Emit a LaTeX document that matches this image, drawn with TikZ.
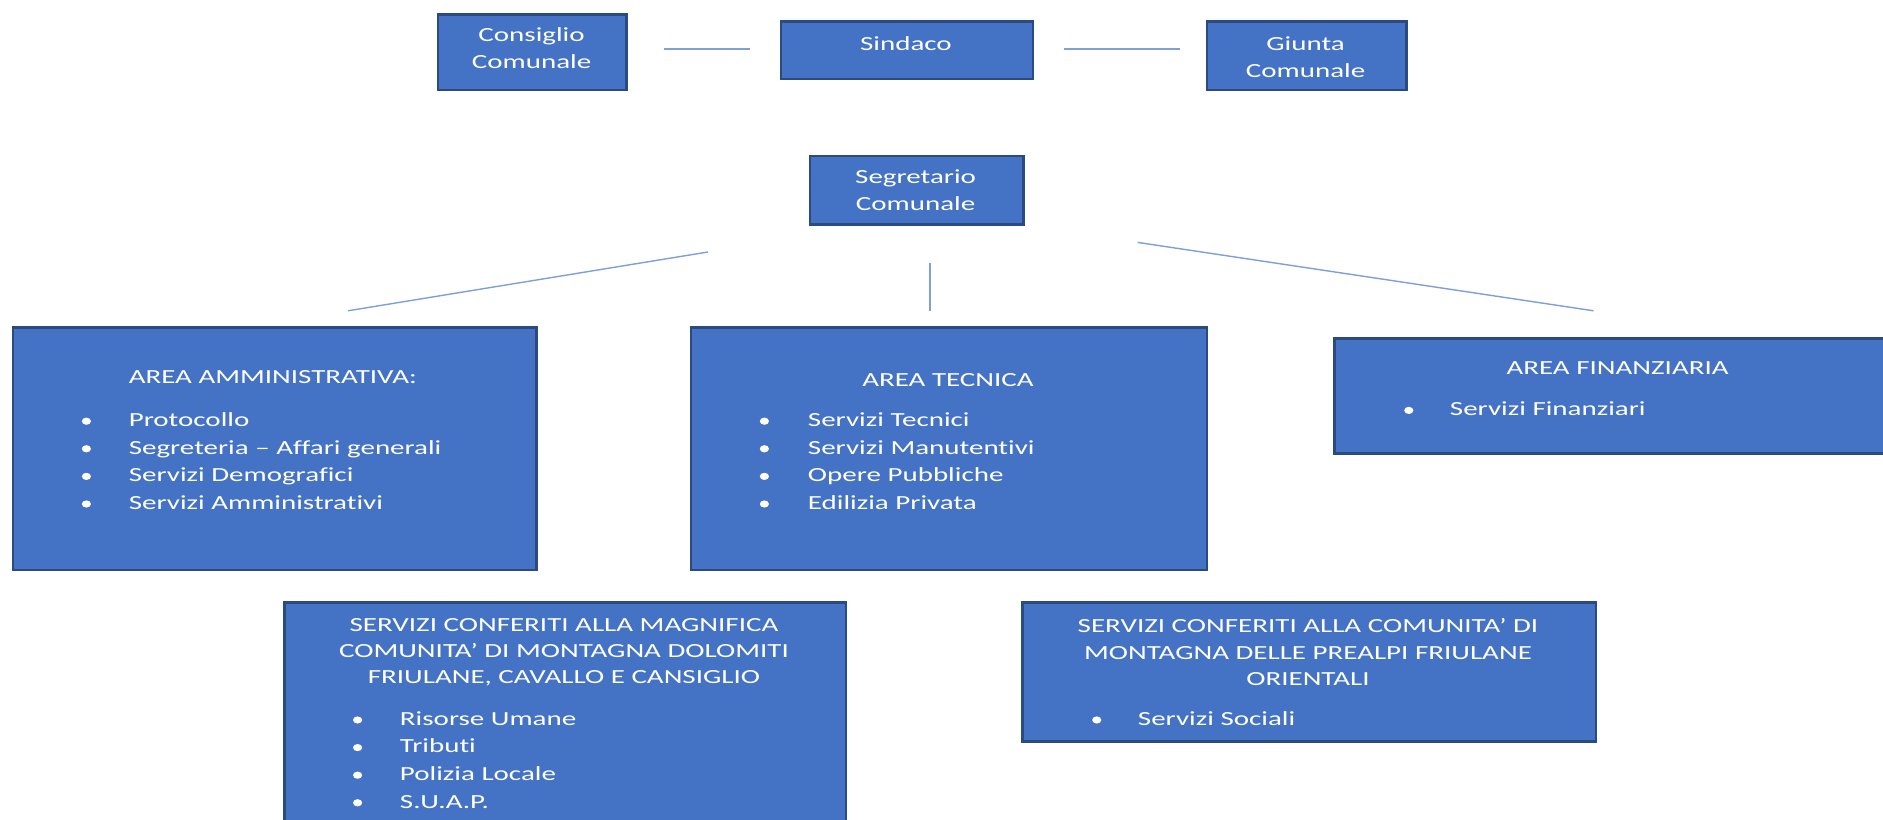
\documentclass[tikz,border=0pt]{standalone}
\usepackage{fontspec}
\usetikzlibrary{shapes.geometric}
\setmainfont{Carlito}[FakeStretch=1.45, Ligatures=NoCommon]
\definecolor{boxfill}{HTML}{4472C4}
\definecolor{boxline}{HTML}{2A4A80}
\definecolor{conn}{HTML}{7F9FD8}
\begin{document}
\begin{tikzpicture}[x=0.6pt,y=-0.6pt,
  box/.style={draw=boxline, fill=boxfill, line width=1.2pt, rectangle, inner sep=0pt, anchor=north west},
  txt/.style={text=white, font=\fontsize{10}{13.2}\selectfont, inner sep=0pt},
  ttl/.style={txt, align=center, anchor=center},
  itm/.style={txt, anchor=mid west},
  dot/.style={ellipse, fill=white, inner sep=0pt, minimum width=4.6pt, minimum height=3.6pt},
  link/.style={draw=conn, line width=0.7pt}]
\useasboundingbox (0,0) rectangle (1569.2,683.3);
\begin{scope}
\clip (0,0) rectangle (1569.2,683.3);
% top row
\node[box, minimum width=94.2pt, minimum height=37.8pt] (cons) at (364,11) {};
\node[ttl] (consT) at (443,40) {Consiglio\\Comunale};
\node[box, minimum width=126pt, minimum height=28.8pt] (sind) at (650,17) {};
\node[ttl] (sindT) at (755,36) {Sindaco};
\node[box, minimum width=99.6pt, minimum height=34.2pt] (giun) at (1005,17) {};
\node[ttl] (giunT) at (1088,47.5) {Giunta\\Comunale};
\coordinate (l1a) at (553,41); \coordinate (l1b) at (625,41);
\coordinate (l2a) at (887,41); \coordinate (l2b) at (983,41);
\draw[link] (l1a) -- (l1b);
\draw[link] (l2a) -- (l2b);
% segretario
\node[box, minimum width=106.8pt, minimum height=34.2pt] (segr) at (674,129) {};
\node[ttl] (segrT) at (763,158.5) {Segretario\\Comunale};
\coordinate (s1a) at (590,210); \coordinate (s1b) at (290,259);
\coordinate (s2a) at (775,219); \coordinate (s2b) at (775,259);
\coordinate (s3a) at (948,202); \coordinate (s3b) at (1328,259);
\draw[link] (s1a) -- (s1b);
\draw[link] (s2a) -- (s2b);
\draw[link] (s3a) -- (s3b);
% area amministrativa
\node[box, minimum width=261.6pt, minimum height=121.2pt] (amm) at (10,272) {};
\node[itm] (ammT) at (107,315.5) {AREA AMMINISTRATIVA:};
\node[dot] (ab1) at (72,351) {}; \node[itm] (a1) at (107,351.5) {Protocollo};
\node[dot] (ab2) at (72,374) {}; \node[itm] (a2) at (107,374.5) {Segreteria – Affari generali};
\node[dot] (ab3) at (72,397) {}; \node[itm] (a3) at (107,397.5) {Servizi Demografici};
\node[dot] (ab4) at (72,420) {}; \node[itm] (a4) at (107,420.5) {Servizi Amministrativi};
% area tecnica
\node[box, minimum width=258pt, minimum height=121.2pt] (tec) at (575,272) {};
\node[ttl] (tecT) at (790,316.5) {AREA TECNICA};
\node[dot] (tb1) at (637,351) {}; \node[itm] (t1) at (673,351.5) {Servizi Tecnici};
\node[dot] (tb2) at (637,374) {}; \node[itm] (t2) at (673,374.5) {Servizi Manutentivi};
\node[dot] (tb3) at (637,397) {}; \node[itm] (t3) at (673,397.5) {Opere Pubbliche};
\node[dot] (tb4) at (637,420) {}; \node[itm] (t4) at (673,420.5) {Edilizia Privata};
% area finanziaria
\node[box, minimum width=290pt, minimum height=57.6pt] (fin) at (1111,281) {};
\node[ttl] (finT) at (1348,306.5) {AREA FINANZIARIA};
\node[dot] (fb1) at (1174,342) {}; \node[itm] (f1) at (1208,342.5) {Servizi Finanziari};
% servizi conferiti 1
\node[box, minimum width=280.8pt, minimum height=120pt] (sc1) at (236,501) {};
\node[ttl] (sc1T) at (470,543.5) {SERVIZI CONFERITI ALLA MAGNIFICA\\COMUNITA’ DI MONTAGNA DOLOMITI\\FRIULANE, CAVALLO E CANSIGLIO};
\node[dot] (cb1) at (298,600) {}; \node[itm] (c1) at (333,600.5) {Risorse Umane};
\node[dot] (cb2) at (298,623) {}; \node[itm] (c2) at (333,623.5) {Tributi};
\node[dot] (cb3) at (298,646) {}; \node[itm] (c3) at (333,646.5) {Polizia Locale};
\node[dot] (cb4) at (298,669) {}; \node[itm] (c4) at (333,669.5) {S.U.A.P.};
% servizi conferiti 2
\node[box, minimum width=286.8pt, minimum height=69.6pt] (sc2) at (851,501) {};
\node[ttl] (sc2T) at (1090,543.5) {SERVIZI CONFERITI ALLA COMUNITA’ DI\\MONTAGNA DELLE PREALPI FRIULANE\\ORIENTALI};
\node[dot] (db1) at (914,600) {}; \node[itm] (d1) at (948,600.5) {Servizi Sociali};
\end{scope}
\end{tikzpicture}
\end{document}
